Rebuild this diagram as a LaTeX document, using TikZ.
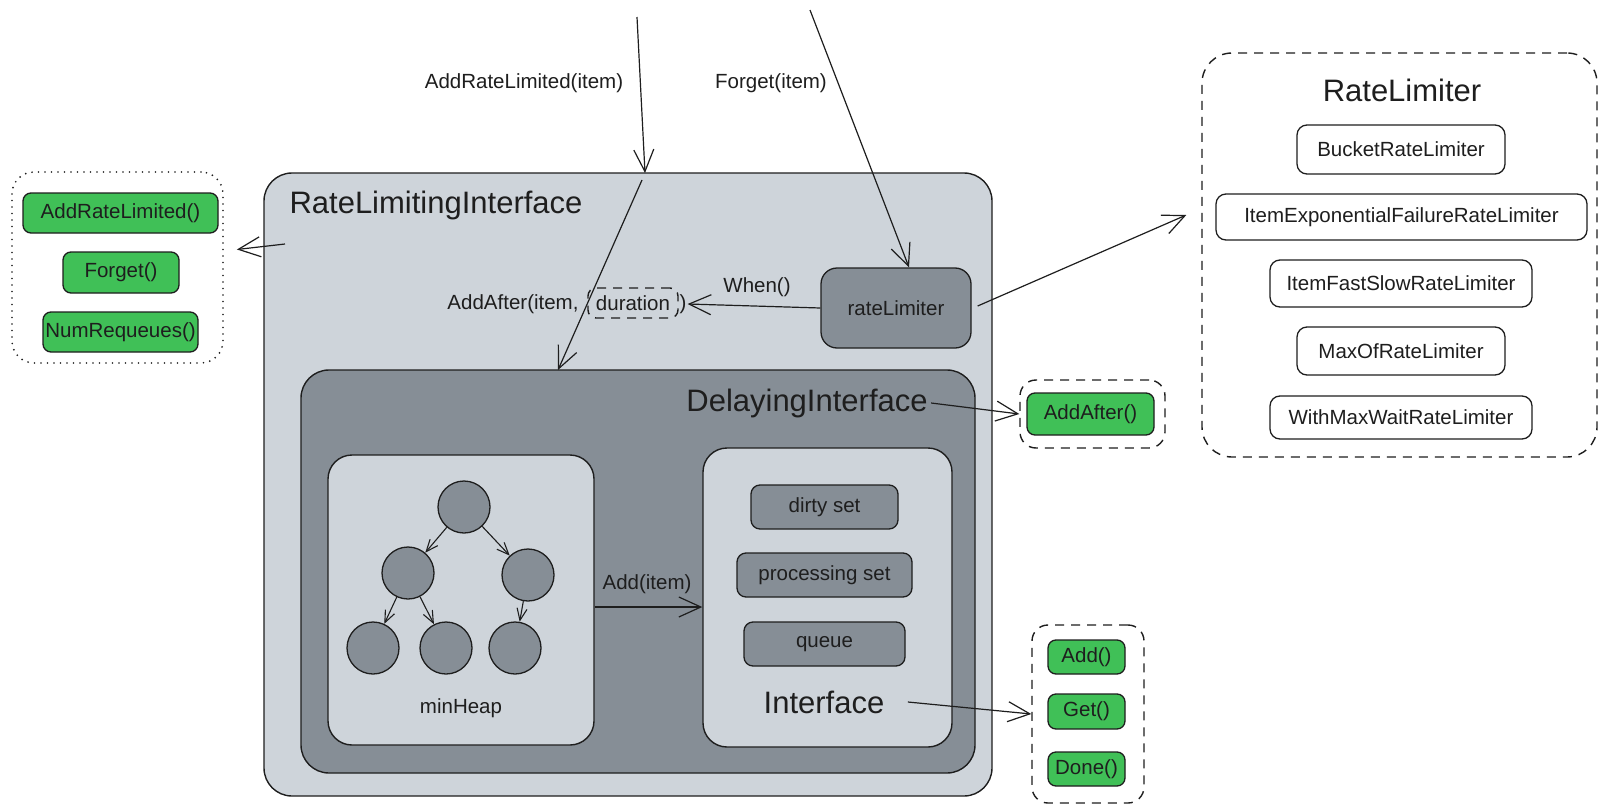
\documentclass[tikz,border=0pt]{standalone}
\usepackage{fontspec}
\setmainfont{Liberation Sans}
\usetikzlibrary{arrows.meta,positioning,shapes.misc}
\definecolor{gclair}{HTML}{CED4DA}
\definecolor{gfonce}{HTML}{868E96}
\definecolor{vert}{HTML}{40C057}
\definecolor{encre}{HTML}{1E1E1E}
\begin{document}
\begin{tikzpicture}[x=1pt,y=-1pt,
every node/.style={font=\fontsize{20.5}{24}\selectfont, text=encre},
titre/.style={font=\fontsize{31}{36}\selectfont},
cadre/.style={draw=encre, line width=1.4pt, rounded corners=28pt, inner sep=0pt},
bloc/.style={draw=encre, fill=gfonce, line width=1.3pt, rounded corners=9pt, minimum height=44, inner sep=0pt},
case/.style={draw=encre, fill=white, line width=1.3pt, rounded corners=10pt, inner sep=0pt},
bouton/.style={draw=encre, fill=vert, line width=1.3pt, rounded corners=8pt, inner sep=0pt},
tirets/.style={draw=encre, line width=1.4pt, dash pattern=on 9pt off 7pt},
pointille/.style={draw=encre, line width=1.9pt, line cap=round, dash pattern=on 0pt off 6.5pt},
rond/.style={circle, draw=encre, fill=gfonce, line width=1.3pt, minimum size=52, inner sep=0pt},
fl/.style={draw=encre, line width=1.2pt, -{Straight Barb[length=22pt,width=20pt]}},
pfl/.style={draw=encre, line width=1.1pt, -{Straight Barb[length=12pt,width=10pt]}}]
\useasboundingbox[fill=white] (0,0) rectangle (1607,811);
\node[pointille, rounded corners=22pt, minimum width=211, minimum height=191] (noeudapi) at (117.5,267.5) {};
\node[bouton, minimum width=195, minimum height=40] (noeudarlbtn) at (120.5,213) {AddRateLimited()};
\node[bouton, minimum width=116, minimum height=41] (noeudfgbtn) at (121,272.5) {Forget()};
\node[bouton, minimum width=155, minimum height=40] (noeudnrbtn) at (120.5,332) {NumRequeues()};
\node[cadre, fill=gclair, minimum width=728, minimum height=623] (noeudrli) at (628,484.5) {};
\node[titre, anchor=west] (noeudrlititre) at (286,205) {RateLimitingInterface};
\node[cadre, fill=gfonce, minimum width=674, minimum height=403] (noeuddelay) at (638,571.5) {};
\node[titre] (noeuddelaytitre) at (807,403) {DelayingInterface};
\node[cadre, fill=gclair, rounded corners=24pt, minimum width=266, minimum height=290] (noeudheap) at (461,600) {};
\node[cadre, fill=gclair, rounded corners=24pt, minimum width=249, minimum height=299] (noeudiface) at (827.5,597.5) {};
\node[bloc, minimum width=147] (noeuddirty) at (824.5,507) {dirty set};
\node[bloc, minimum width=175] (noeudproc) at (824.5,575) {processing set};
\node[bloc, minimum width=161] (noeudqueue) at (824.5,644) {queue};
\node[titre] (noeudifacetitre) at (824,702) {Interface};
\node (noeudheaptitre) at (461,708) {minHeap};
\node[rond] (noeudr) at (464,507) {};
\node[rond] (noeudg) at (408,573) {};
\node[rond] (noeudd) at (528,575) {};
\node[rond] (noeudgg) at (373,648) {};
\node[rond] (noeudgd) at (446,648) {};
\node[rond] (noeuddg) at (515,648) {};
\draw[pfl] (noeudr) -- (noeudg);
\draw[pfl] (noeudr) -- (noeudd);
\draw[pfl] (noeudg) -- (noeudgg);
\draw[pfl] (noeudg) -- (noeudgd);
\draw[pfl] (noeudd) -- (noeuddg);
\draw[fl] ([yshift=-7pt]noeudheap.east) -- ([yshift=-9.5pt]noeudiface.west);
\node (noeudadd) at (647,584) {Add(item)};
\node[bloc, minimum width=150, minimum height=80, rounded corners=16pt] (noeudratelim) at (896,308) {rateLimiter};
\node (noeudaalbl) at (513,304) {AddAfter(item,};
\node[tirets, rounded corners=8pt, minimum width=90, minimum height=30, inner sep=0pt] (noeuddur) at (633,303) {duration};
\node[inner sep=1pt] (noeudpar) at (683,304) {)};
\draw[fl] (noeudratelim.west) -- (noeudpar.east);
\node (noeudwhen) at (757,287) {When()};
\coordinate (noeudarl) at (637,17);
\coordinate (noeudarlfin) at (645,173);
\draw[fl] (noeudarl) -- (noeudarlfin);
\node (noeudarllbl) at (524,83) {AddRateLimited(item)};
\coordinate (noeudfg) at (810,10);
\draw[fl] (noeudfg) -- ([xshift=13pt]noeudratelim.north);
\node (noeudfglbl) at (771,83) {Forget(item)};
\coordinate (noeudaa) at (642,180);
\coordinate (noeudaafin) at (558,370);
\draw[fl] (noeudaa) -- (noeudaafin);
\coordinate (noeudrlig) at (285,244);
\draw[fl] (noeudrlig) -- ([shift={(13,-18)}]noeudapi.east);
\node[tirets, rounded corners=16pt, minimum width=145, minimum height=68] (noeudafter) at (1092.5,414) {};
\node[bouton, minimum width=127, minimum height=42] (noeudafterbtn) at (1090.5,414) {AddAfter()};
\draw[fl] (noeuddelaytitre.east) -- (noeudafter.west);
\node[tirets, rounded corners=16pt, minimum width=112, minimum height=178] (noeudqueues) at (1088,714) {};
\node[bouton, minimum width=77, minimum height=34] (noeudaddbtn) at (1086.5,657) {Add()};
\node[bouton, minimum width=77, minimum height=35] (noeudgetbtn) at (1086.5,711.5) {Get()};
\node[bouton, minimum width=77, minimum height=34] (noeuddonebtn) at (1086.5,769) {Done()};
\draw[fl] ([xshift=20pt]noeudifacetitre.east) -- (noeudqueues.west);
\node[tirets, rounded corners=30pt, minimum width=395, minimum height=404] (noeudrl) at (1399.5,255) {};
\node[titre] (noeudrltitre) at (1402,90) {RateLimiter};
\node[case, minimum width=208, minimum height=49] (noeudbucket) at (1401,149.5) {BucketRateLimiter};
\node[case, minimum width=371, minimum height=46] (noeudexpo) at (1401.5,217) {ItemExponentialFailureRateLimiter};
\node[case, minimum width=262, minimum height=47] (noeudfast) at (1401,283.5) {ItemFastSlowRateLimiter};
\node[case, minimum width=208, minimum height=48] (noeudmaxof) at (1401,351) {MaxOfRateLimiter};
\node[case, minimum width=262, minimum height=43] (noeudwait) at (1401,417.5) {WithMaxWaitRateLimiter};
\draw[fl] ([shift={(6,-2)}]noeudratelim.east) -- ([shift={(-15,-40)}]noeudrl.west);
\end{tikzpicture}
\end{document}
